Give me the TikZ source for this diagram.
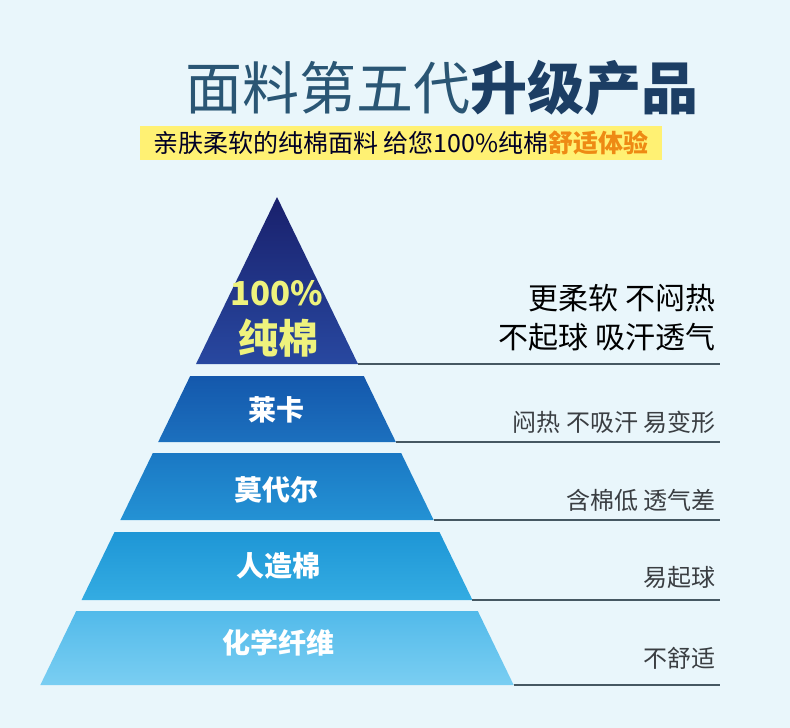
\documentclass[tikz,border=0pt]{standalone}
\usepackage{fontspec}
\setmainfont{Noto Sans CJK SC}
\usetikzlibrary{positioning,calc}
\definecolor{bg}{RGB}{233,246,251}
\definecolor{ttl}{RGB}{42,86,116}
\definecolor{ttlb}{RGB}{28,62,100}
\definecolor{hl}{RGB}{255,241,115}
\definecolor{org}{RGB}{238,138,20}
\definecolor{ylw}{RGB}{238,242,125}
\definecolor{rulecol}{RGB}{70,88,98}
\definecolor{desc}{RGB}{58,62,66}
\definecolor{cotT}{RGB}{25,32,108}  \definecolor{cotB}{RGB}{40,72,160}
\definecolor{lycT}{RGB}{20,88,172}  \definecolor{lycB}{RGB}{28,112,190}
\definecolor{modT}{RGB}{26,120,196} \definecolor{modB}{RGB}{36,146,212}
\definecolor{rayT}{RGB}{30,150,214} \definecolor{rayB}{RGB}{52,172,226}
\definecolor{chmT}{RGB}{82,186,234} \definecolor{chmB}{RGB}{122,206,242}
% band of the pyramid: name, top y, bottom y (colours are name T / name B)
\newcommand{\band}[3]{%
  \shade[top color=#1T, bottom color=#1B] ({277-0.485*(#2-197)},#2) -- ({277+0.485*(#2-197)},#2)
    -- ({277+0.485*(#3-197)},#3) -- ({277-0.485*(#3-197)},#3) -- cycle;
  \coordinate (#1-r) at ({277+0.485*(#3-197)},#3);
  \coordinate (#1-e) at (720,#3);
  \draw[rulecol, line width=1.1] (#1-r) -- (#1-e);}
\tikzset{
  lbl/.style={text=white, font=\bfseries\fontsize{28}{30}\selectfont},
  dsc/.style={anchor=east, text=desc, font=\fontsize{24}{26}\selectfont},
  pro/.style={anchor=east, text=black, font=\fontsize{30}{32}\selectfont}
}

\begin{document}
\begin{tikzpicture}[x=1pt, y=-1pt]
  \fill[bg] (0,0) rectangle (790,728);
  \useasboundingbox (0,0) rectangle (790,728);
  % ------------------------------------------------------------------ heading
  \node[inner sep=0, font=\fontsize{57}{60}\selectfont] (title) at (442,88)
    {\color{ttl}面料第五代{\bfseries\color{ttlb}升级产品}};
  \fill[hl] (140,126) rectangle (662,160);
  \node[inner sep=0, text=black!85!blue, font=\fontsize{25}{27}\selectfont] (sub) at (401,143)
    {亲肤柔软的纯棉面料 给您100\%纯棉{\bfseries\color{org}舒适体验}};
  % ------------------------------------------------------------------ pyramid
  \band{cot}{197}{364}
  \band{lyc}{376}{442}
  \band{mod}{453}{520}
  \band{ray}{532}{600}
  \band{chm}{611}{685}
  \node[text=ylw, font=\bfseries\fontsize{33}{35}\selectfont] (pct) at (277,293) {100\%};
  \node[text=ylw, font=\bfseries\fontsize{40}{42}\selectfont] (cotl) at (278,338) {纯棉};
  \node[lbl] (lycl) at (276,410) {莱卡};
  \node[lbl] (modl) at (276,490) {莫代尔};
  \node[lbl] (rayl) at (278,566) {人造棉};
  \node[lbl] (chml) at (278,643) {化学纤维};
  % ------------------------------------------------------------------ notes
  \node[pro] (pro1) at (719,298) {更柔软 不闷热};
  \node[pro] (pro2) at (719,337) {不起球 吸汗透气};
  \node[dsc] (lycd) at (719,422) {闷热 不吸汗 易变形};
  \node[dsc] (modd) at (719,500) {含棉低 透气差};
  \node[dsc] (rayd) at (719,577) {易起球};
  \node[dsc] (chmd) at (719,658) {不舒适};
\end{tikzpicture}
\end{document}
